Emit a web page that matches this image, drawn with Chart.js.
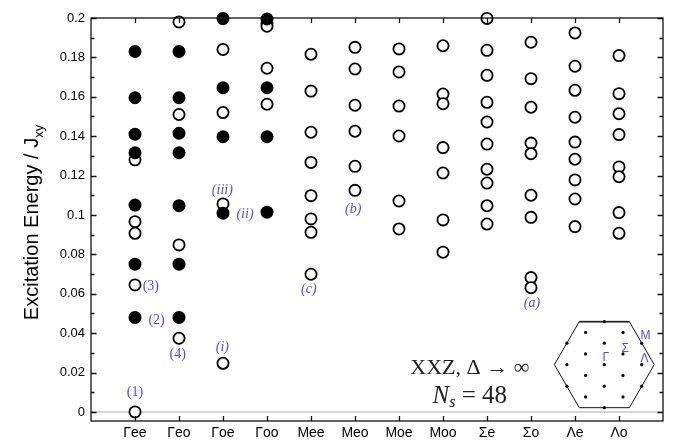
<!DOCTYPE html>
<html>
<head>
<meta charset="utf-8">
<script src="https://cdn.jsdelivr.net/npm/chart.js@4"></script>
<style>
  html, body { margin: 0; padding: 0; background: #fff; }
  #wrap { width: 673px; height: 440px; }
</style>
</head>
<body>
<div id="wrap"><canvas id="spectrum" width="673" height="440"></canvas></div>
<script>
// momentum / symmetry sectors along the x axis
const categories = ['Γee', 'Γeo', 'Γoe', 'Γoo', 'Mee', 'Meo', 'Moe', 'Moo', 'Σe', 'Σo', 'Λe', 'Λo'];

// excitation energies (filled markers), one list per sector
const filledLevels = [
    [0.183, 0.1595, 0.141, 0.1316, 0.105, 0.075, 0.048],
    [0.183, 0.1595, 0.1415, 0.1316, 0.1047, 0.075, 0.048],
    [0.1997, 0.1646, 0.1397, 0.1009],
    [0.1995, 0.1646, 0.1397, 0.1014],
    [], [], [], [], [], [], [], []
];

// excitation energies (open markers), one list per sector
const openLevels = [
    [0.128, 0.0966, 0.0907, 0.0645, 0],
    [0.198, 0.151, 0.0848, 0.0374],
    [0.184, 0.152, 0.1056, 0.0247],
    [0.1975, 0.1958, 0.1745, 0.1562],
    [0.1816, 0.1629, 0.142, 0.1267, 0.1098, 0.098, 0.0912, 0.0699],
    [0.1851, 0.1741, 0.1557, 0.1425, 0.1247, 0.1125],
    [0.1843, 0.1726, 0.1553, 0.1401, 0.1071, 0.0929],
    [0.1859, 0.1614, 0.1565, 0.1342, 0.1213, 0.0975, 0.0811],
    [0.1998, 0.1836, 0.1709, 0.1572, 0.1472, 0.136, 0.1232, 0.1162, 0.1047, 0.0954],
    [0.1877, 0.1692, 0.1547, 0.1365, 0.1311, 0.11, 0.0988, 0.0682, 0.0631],
    [0.1924, 0.1755, 0.1633, 0.1496, 0.137, 0.1283, 0.1178, 0.1081, 0.0941],
    [0.1809, 0.1616, 0.1514, 0.1408, 0.1244, 0.1194, 0.1012, 0.0907]
];

const yTicks = [0, 0.02, 0.04, 0.06, 0.08, 0.1, 0.12, 0.14, 0.16, 0.18, 0.2];
const yTickLabels = ['0', '0.02', '0.04', '0.06', '0.08', '0.1', '0.12', '0.14', '0.16', '0.18', '0.2'];

// labels next to particular levels: [text, x (sector units), y (energy)]
const levelTags = [
    ['(1)', 1, 0.0102], ['(2)', 1.49, 0.0467], ['(3)', 1.36, 0.064], ['(4)', 1.97, 0.0294],
    ['(i)', 2.985, 0.0328], ['(ii)', 3.5, 0.1004], ['(iii)', 2.985, 0.1127],
    ['(b)', 5.96, 0.1029], ['(c)', 4.95, 0.0623], ['(a)', 10.02, 0.0552]
];

// Brillouin-zone inset: lattice sites (column, half-row) and hexagon corners
const bzSites = [[0, -4], [-1, -3], [1, -3], [-2, -2], [0, -2], [2, -2], [-1, -1], [1, -1],
    [-2, 0], [0, 0], [2, 0], [-1, 1], [1, 1], [-2, 2], [0, 2], [2, 2], [-1, 3], [1, 3], [0, 4]];
const bzCorners = [[-2.67, 0], [-1.34, -4], [1.34, -4], [2.67, 0], [1.34, 4], [-1.34, 4], [-2.67, 0]];
const bzLabels = [['M', 12.6, 0.0385], ['Σ', 12.14, 0.032], ['Γ', 11.70, 0.0273], ['Λ', 12.58, 0.0269]];
const bzCenter = { x: 11.666, y: 0.024 };
const bzStep = { x: 0.425, y: 0.00546 };

const toBz = ([i, j]) => ({ x: bzCenter.x + i * bzStep.x, y: bzCenter.y - j * bzStep.y });

const filledPts = [];
const openPts = [];
categories.forEach((c, i) => {
    filledLevels[i].forEach(v => filledPts.push({ x: i + 1, y: v }));
    openLevels[i].forEach(v => openPts.push({ x: i + 1, y: v }));
});

const BLUE = '#4c4cff';

const decor = {
    id: 'decor',
    beforeDatasetsDraw(chart) {
        const { ctx, chartArea: a, scales: { y } } = chart;
        const y0 = y.getPixelForValue(0);
        ctx.save();
        ctx.strokeStyle = '#c8c8c8';
        ctx.lineWidth = 1.5;
        ctx.beginPath();
        ctx.moveTo(a.left, y0);
        ctx.lineTo(a.right, y0);
        ctx.stroke();
        ctx.restore();
    },
    afterDatasetsDraw(chart) {
        const { ctx, chartArea: a, scales: { x, y } } = chart;
        ctx.save();
        // frame
        ctx.strokeStyle = '#111';
        ctx.lineWidth = 1.3;
        ctx.strokeRect(a.left, a.top, a.right - a.left, a.bottom - a.top);
        // y ticks, both sides, pointing inward
        for (let k = 0; k <= 20; k++) {
            const py = Math.round(y.getPixelForValue(k / 100)) + 0.5;
            const len = k % 2 === 0 ? 5.5 : 3.5;
            ctx.beginPath();
            ctx.moveTo(a.left, py); ctx.lineTo(a.left + len, py);
            ctx.moveTo(a.right, py); ctx.lineTo(a.right - len, py);
            ctx.stroke();
        }
        // x ticks, top and bottom
        categories.forEach((c, i) => {
            const px = Math.round(x.getPixelForValue(i + 1)) + 0.5;
            ctx.beginPath();
            ctx.moveTo(px, a.bottom); ctx.lineTo(px, a.bottom - 5);
            ctx.moveTo(px, a.top); ctx.lineTo(px, a.top + 5);
            ctx.stroke();
        });

        // tags
        ctx.fillStyle = BLUE;
        ctx.textAlign = 'center';
        ctx.textBaseline = 'middle';
        levelTags.forEach(([t, vx, vy]) => {
            const italic = /[a-z]/.test(t);
            ctx.font = (italic ? 'italic ' : '') + '14px "Liberation Serif", "DejaVu Serif", serif';
            ctx.fillText(t, x.getPixelForValue(vx), y.getPixelForValue(vy));
        });
        bzLabels.forEach(([t, vx, vy]) => {
            ctx.font = '12px "Liberation Sans", Arial, sans-serif';
            ctx.fillText(t, x.getPixelForValue(vx), y.getPixelForValue(vy));
        });

        // model text
        ctx.fillStyle = '#222';
        const cx = x.getPixelForValue(8.61);
        ctx.font = '22px "Liberation Serif", "DejaVu Serif", serif';
        ctx.fillText('XXZ, Δ → ∞', cx, y.getPixelForValue(0.0223));
        const ly = y.getPixelForValue(0.0086);
        const big = '25px "Liberation Serif", "DejaVu Serif", serif';
        const bigI = 'italic ' + big;
        const sub = 'italic 16px "Liberation Serif", "DejaVu Serif", serif';
        ctx.font = bigI; const wN = ctx.measureText('N').width;
        ctx.font = sub; const wS = ctx.measureText('s').width;
        ctx.font = big; const wR = ctx.measureText(' = 48').width;
        let sx = cx - (wN + wS + wR) / 2;
        ctx.textAlign = 'left';
        ctx.textBaseline = 'alphabetic';
        const base = ly + 8;
        ctx.font = bigI; ctx.fillText('N', sx, base); sx += wN;
        ctx.font = sub; ctx.fillText('s', sx, base + 4); sx += wS;
        ctx.font = big; ctx.fillText(' = 48', sx, base);

        // y axis title with subscript
        const main = 'Excitation Energy / J';
        const f1 = '20px "Liberation Sans", Arial, sans-serif';
        const f2 = '13px "Liberation Sans", Arial, sans-serif';
        ctx.font = f1; const w1 = ctx.measureText(main).width;
        ctx.font = f2; const w2 = ctx.measureText('xy').width;
        ctx.translate(38, (a.top + a.bottom) / 2 + 3);
        ctx.rotate(-Math.PI / 2);
        ctx.fillStyle = '#000';
        ctx.font = f1; ctx.fillText(main, -(w1 + w2) / 2, 0);
        ctx.font = f2; ctx.fillText('xy', -(w1 + w2) / 2 + w1, 5);
        ctx.restore();
    }
};

new Chart(document.getElementById('spectrum'), {
    type: 'scatter',
    data: {
        datasets: [
            {
                data: filledPts,
                backgroundColor: '#000',
                borderColor: '#000',
                borderWidth: 1.8,
                pointRadius: 5.6,
                pointHoverRadius: 5.6,
                clip: false
            },
            {
                data: openPts,
                backgroundColor: '#fff',
                borderColor: '#000',
                borderWidth: 1.8,
                pointRadius: 5.6,
                pointHoverRadius: 5.6,
                clip: false
            },
            {
                data: bzSites.map(toBz),
                backgroundColor: '#000',
                borderColor: '#000',
                borderWidth: 0,
                pointRadius: 1.6
            },
            {
                data: bzCorners.map(toBz),
                showLine: true,
                fill: false,
                borderColor: '#111',
                borderWidth: 1,
                pointRadius: 0,
                tension: 0
            },
            {
                data: bzCorners.slice(1, 3).map(toBz),
                showLine: true,
                fill: false,
                borderColor: '#777',
                borderWidth: 2,
                pointRadius: 0
            }
        ]
    },
    options: {
        responsive: false,
        animation: false,
        events: [],
        layout: { padding: { left: 0, top: 18, right: 10, bottom: 0 } },
        plugins: { legend: { display: false }, tooltip: { enabled: false } },
        scales: {
            x: {
                type: 'linear',
                min: 0,
                max: 13,
                afterBuildTicks: s => { s.ticks = categories.map((c, i) => ({ value: i + 1 })); },
                afterFit: s => { s.height = 19; },
                grid: { display: false, drawTicks: false },
                border: { display: false },
                ticks: {
                    autoSkip: false,
                    maxRotation: 0,
                    padding: 4,
                    color: '#000',
                    font: { family: '"Liberation Sans", Arial, sans-serif', size: 14 },
                    callback: v => categories[Math.round(v) - 1]
                }
            },
            y: {
                min: -0.0046,
                max: 0.2,
                afterBuildTicks: s => { s.ticks = yTicks.map(v => ({ value: v })); },
                afterFit: s => { s.width = 91; },
                grid: { display: false, drawTicks: false },
                border: { display: false },
                ticks: {
                    padding: 6,
                    color: '#000',
                    font: { family: '"Liberation Sans", Arial, sans-serif', size: 13 },
                    callback: (v, i) => yTickLabels[i]
                }
            }
        }
    },
    plugins: [decor]
});
</script>
</body>
</html>
